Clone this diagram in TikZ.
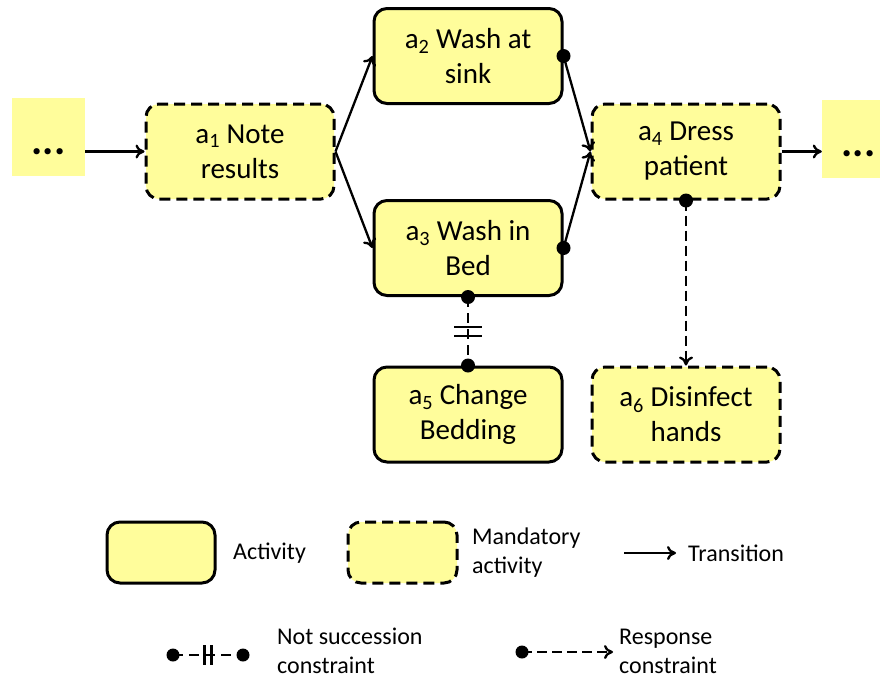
\documentclass[tikz,border=0pt]{standalone}
\usepackage{fontspec}
\setmainfont{Carlito}
\usetikzlibrary{arrows.meta, positioning, calc}
\definecolor{actyellow}{RGB}{255,253,155}

\begin{document}
\begin{tikzpicture}[
        x=1pt, y=-1pt,
        activity/.style={
            rectangle,
            rounded corners=13pt,
            draw=black,
            fill=actyellow,
            line width=3pt,
            minimum width=188pt,
            minimum height=95pt,
            align=center,
            font=\fontsize{29}{35}\selectfont
        },
        mandatory/.style={
            activity,
            dash pattern=on 11pt off 6pt
        },
        more/.style={
            fill=actyellow,
            minimum width=73pt,
            minimum height=78pt,
            inner sep=0pt,
            text height=34pt,
            text depth=0pt,
            font=\fontsize{42}{46}\selectfont\bfseries
        },
        trans/.style={
            -{To[length=9pt,width=14pt]},
            line width=2.3pt
        },
        response/.style={
            -{To[length=9pt,width=14pt]},
            line width=2.3pt,
            dash pattern=on 10pt off 5pt
        },
        notsucc/.style={
            line width=2.3pt,
            dash pattern=on 10pt off 6pt
        },
        bar/.style={
            line width=2.3pt
        },
        legtext/.style={
            anchor=west,
            align=left,
            inner sep=0pt,
            font=\fontsize{24}{29}\selectfont
        }
    ]

    \useasboundingbox (0,0) rectangle (880,678);

    % process
    \node[more] (dotsL) at (48.5,137) {...};
    \node[mandatory] (a1) at (240,151.5) {a\textsubscript{1} Note\\results};
    \node[activity] (a2) at (468,56) {a\textsubscript{2} Wash at\\sink};
    \node[activity] (a3) at (468,248) {a\textsubscript{3} Wash in\\Bed};
    \node[mandatory] (a4) at (686,151.5) {a\textsubscript{4} Dress\\patient};
    \node[activity] (a5) at (468,414.5) {a\textsubscript{5} Change\\Bedding};
    \node[mandatory] (a6) at (686,414.5) {a\textsubscript{6} Disinfect\\hands};
    \node[more] (dotsR) at (858.5,139) {...};

    \draw[trans] (dotsL.east |- a1.west) -- (a1.west);
    \draw[trans] (a1.east) -- (a2.west);
    \draw[trans] (a1.east) -- (a3.west);
    \draw[trans] (a2.east) -- (a4.west);
    \draw[trans] (a3.east) -- (a4.west);
    \draw[trans] (a4.east) -- (dotsR.west |- a4.east);
    \fill (a2.east) circle[radius=7pt];
    \fill (a3.east) circle[radius=7pt];

    % constraints
    \draw[response] (a4.south) -- (a6.north);
    \fill (a4.south) circle[radius=7pt];

    \draw[notsucc] (a3.south) -- (a5.north);
    \coordinate (nsM) at ($(a3.south)!0.5!(a5.north)$);
    \draw[bar] ($(nsM)+(-14,-4.5)$) -- ++(28,0);
    \draw[bar] ($(nsM)+(-14,4.5)$) -- ++(28,0);
    \fill (a3.south) circle[radius=7pt];
    \fill (a5.north) circle[radius=7pt];

    % legend
    \node[activity, minimum width=108pt, minimum height=61pt] (legAct) at (161,552.5) {};
    \node[legtext] (legActTxt) at (233,553) {Activity};
    \node[mandatory, minimum width=109pt, minimum height=61pt] (legMand) at (402.5,552.5) {};
    \node[legtext] (legMandTxt) at (472,553) {Mandatory\\activity};

    \coordinate (trA) at (624,553);
    \coordinate (trB) at (676,553);
    \draw[trans] (trA) -- (trB);
    \node[legtext] (legTrTxt) at (688,553) {Transition};

    \coordinate (nsA) at (173,655);
    \coordinate (nsB) at (243,655);
    \draw[notsucc] (nsA) -- (nsB);
    \coordinate (nsC) at ($(nsA)!0.5!(nsB)$);
    \draw[bar] ($(nsC)+(-3.5,-10)$) -- ++(0,20);
    \draw[bar] ($(nsC)+(3.5,-10)$) -- ++(0,20);
    \fill (nsA) circle[radius=6.5pt];
    \fill (nsB) circle[radius=6.5pt];
    \node[legtext] (legNsTxt) at (277,651) {Not succession\\constraint};

    \coordinate (rsA) at (522,652);
    \coordinate (rsB) at (613,652);
    \draw[response] (rsA) -- (rsB);
    \fill (rsA) circle[radius=6.5pt];
    \node[legtext] (legRsTxt) at (619,651) {Response\\constraint};

\end{tikzpicture}
\end{document}
